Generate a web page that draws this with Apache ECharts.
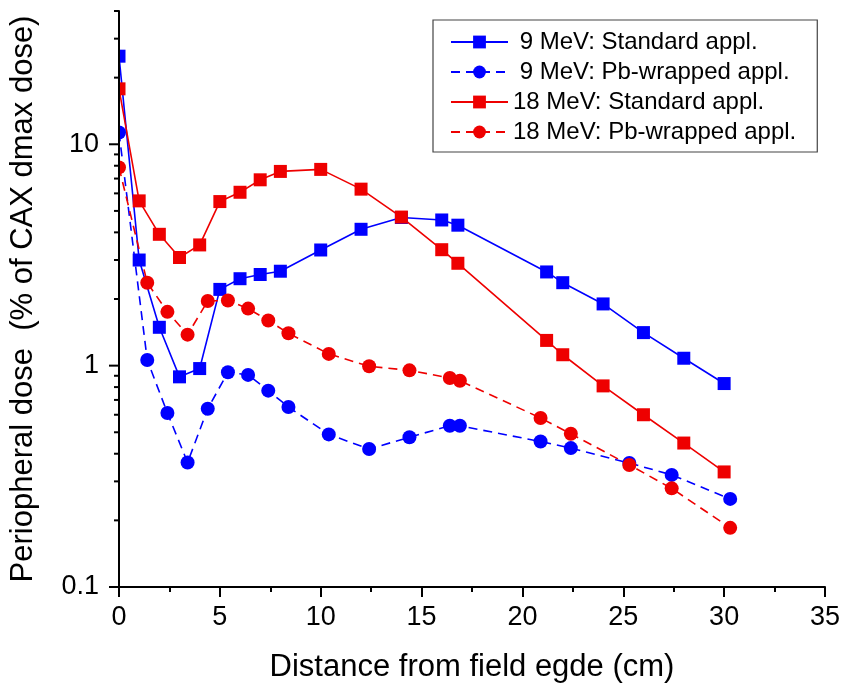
<!DOCTYPE html>
<html><head><meta charset="utf-8">
<script src="https://cdn.jsdelivr.net/npm/echarts@6/dist/echarts.min.js"></script>
<style>html,body{margin:0;padding:0;background:#fff}#c{width:843px;height:692px}</style>
</head><body><div id="c"></div>
<script>
// ---- data ----
const seriesNames = ['9 MeV: Standard appl.', '9 MeV: Pb-wrapped appl.', '18 MeV: Standard appl.', '18 MeV: Pb-wrapped appl.'];
const xStandard = [0, 1, 2, 3, 4, 5, 6, 7, 8, 10, 12, 14, 16, 16.8, 21.2, 22, 24, 26, 28, 30];
const yStd9 = [25, 3.0, 1.49, 0.89, 0.97, 2.21, 2.47, 2.58, 2.67, 3.33, 4.13, 4.67, 4.55, 4.31, 2.65, 2.37, 1.90, 1.41, 1.08, 0.83];
const yStd18 = [17.8, 5.55, 3.92, 3.08, 3.51, 5.51, 6.07, 6.91, 7.54, 7.70, 6.27, 4.69, 3.34, 2.90, 1.30, 1.12, 0.81, 0.60, 0.447, 0.331];
const xPb = [0, 1.4, 2.4, 3.4, 4.4, 5.4, 6.4, 7.4, 8.4, 10.4, 12.4, 14.4, 16.4, 16.9, 20.9, 22.4, 25.3, 27.4, 30.3];
const yPb9 = [11.3, 1.06, 0.611, 0.365, 0.639, 0.933, 0.908, 0.771, 0.650, 0.489, 0.420, 0.475, 0.535, 0.535, 0.454, 0.424, 0.363, 0.321, 0.250];
const yPb18 = [7.86, 2.37, 1.75, 1.38, 1.96, 1.97, 1.81, 1.60, 1.40, 1.13, 0.993, 0.952, 0.880, 0.855, 0.580, 0.492, 0.356, 0.279, 0.185];
const yMajorTicks = [0.1, 1, 10];
const yMinorTicks = [0.2, 0.3, 0.4, 0.5, 0.6, 0.7, 0.8, 0.9, 2, 3, 4, 5, 6, 7, 8, 9, 20, 30, 40];
const yMin = 0.1, yMax = 40;
const xTitle = 'Distance from field egde (cm)';
const yTitle = 'Periopheral dose  (% of CAX dmax dose)';

// ---- chart ----
const font = 'Arial, "Liberation Sans", Helvetica, sans-serif';
const BLUE = '#0000ff', RED = '#ee0000';
const zip = (xs, ys) => xs.map((x, i) => [x, ys[i]]);
function mk(name, xs, ys, color, symbol, dashed) {
  return {
    name, type: 'line', data: zip(xs, ys),
    symbol, symbolSize: symbol === 'rect' ? 13 : 14,
    lineStyle: { color, width: 1.6, type: dashed ? [9, 6] : 'solid' },
    itemStyle: { color },
    clip: false
  };
}
const axisLineStyle = { color: '#000', width: 2 };
const chart = echarts.init(document.getElementById('c'));
chart.setOption({
  animation: false,
  backgroundColor: '#fff',
  grid: { left: 117, right: 18, top: 11, bottom: 105 },
  xAxis: {
    type: 'value', min: 0, max: 35, interval: 5, z: 5,
    name: xTitle, nameLocation: 'middle', nameGap: 65,
    nameTextStyle: { fontSize: 31, color: '#000', fontFamily: font },
    axisLine: { show: true, onZero: false, lineStyle: axisLineStyle },
    axisTick: { show: true, length: 10, lineStyle: axisLineStyle },
    minorTick: { show: true, splitNumber: 2, length: 5, lineStyle: axisLineStyle },
    axisLabel: { fontSize: 27, color: '#000', margin: 17, fontFamily: font },
    splitLine: { show: false }
  },
  yAxis: {
    type: 'log', logBase: 10, min: yMin, max: yMax, zlevel: 1, z: 5,
    name: yTitle, nameLocation: 'middle', nameGap: 80,
    nameTextStyle: { fontSize: 31, color: '#000', fontFamily: font },
    axisLine: { show: true, lineStyle: axisLineStyle },
    axisTick: { show: false },
    axisLabel: { fontSize: 27, color: '#000', margin: 20, fontFamily: font, showMaxLabel: false,
      formatter: v => String(+(+v).toPrecision(3)) },
    splitLine: { show: false }
  },
  legend: {
    orient: 'vertical', left: 433, top: 20,
    padding: [10, 21, 8, 17], itemGap: 6, itemWidth: 57, itemHeight: 16,
    borderColor: '#444', borderWidth: 1.2, backgroundColor: '#fff',
    textStyle: { fontSize: 24, lineHeight: 22, color: '#000', fontFamily: font },
    formatter: n => (n.charAt(0) === '9' ? ' ' : '') + n,
    data: seriesNames
  },
  series: [
    mk(seriesNames[0], xStandard, yStd9, BLUE, 'rect', false),
    mk(seriesNames[1], xPb, yPb9, BLUE, 'circle', true),
    mk(seriesNames[2], xStandard, yStd18, RED, 'rect', false),
    mk(seriesNames[3], xPb, yPb18, RED, 'circle', true)
  ]
});
// y-axis tick marks and a mask clipping the markers at x = 0, placed through the axis scales
const els = [];
const pTop = chart.convertToPixel({ xAxisIndex: 0, yAxisIndex: 0 }, [0, yMax]);
els.push({ type: 'rect', zlevel: 1, z: 0,
  shape: { x: pTop[0] - 18, y: pTop[1] + 15, width: 17, height: 175 },
  style: { fill: '#fff' } });
function addTicks(vals, len) {
  vals.forEach(v => {
    const p = chart.convertToPixel({ xAxisIndex: 0, yAxisIndex: 0 }, [0, v]);
    els.push({ type: 'rect', zlevel: 1, z: 10,
      shape: { x: p[0] - len, y: p[1] - 1, width: len, height: 2 },
      style: { fill: '#000' } });
  });
}
addTicks(yMajorTicks, 10);
addTicks(yMinorTicks, 5);
chart.setOption({ graphic: { elements: els } });
</script></body></html>
